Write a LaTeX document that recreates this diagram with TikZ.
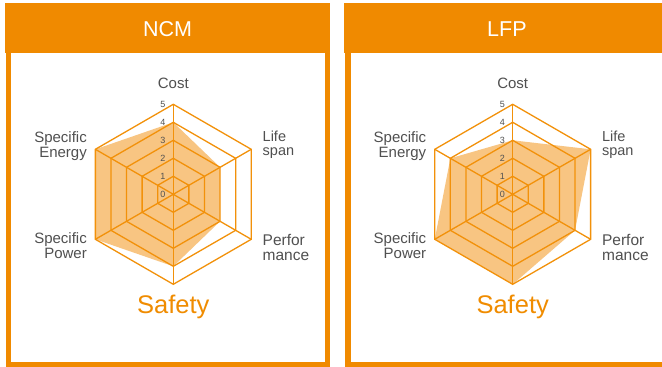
\documentclass[tikz,border=0pt]{standalone}
\usepackage{fontspec}
\setmainfont{Liberation Sans}
\definecolor{hdr}{RGB}{240,138,0}
\definecolor{gridc}{RGB}{242,145,10}
\definecolor{fillc}{RGB}{248,197,130}
\definecolor{txt}{RGB}{80,80,80}
\definecolor{safe}{RGB}{240,140,0}
\tikzset{
  gridline/.style={draw=gridc, line width=1.3pt, line join=miter},
  hdrbox/.style={fill=hdr},
  framebox/.style={draw=hdr, line width=5.5pt},
  titletext/.style={text=white, font=\fontsize{21.5}{24}\selectfont, inner sep=0pt},
  axislabel/.style={text=txt, font=\fontsize{15}{15}\selectfont, inner sep=0pt},
  lifelabel/.style={text=txt, font=\fontsize{14.5}{14.7}\selectfont, inner sep=0pt, align=left},
  perflabel/.style={text=txt, font=\fontsize{15.5}{15}\selectfont, inner sep=0pt, align=left},
  safetylabel/.style={text=safe, font=\fontsize{25.5}{28}\selectfont, inner sep=0pt},
  numlabel/.style={text=txt, font=\fontsize{9}{10}\selectfont, inner sep=0pt},
}
\newcommand{\radarpanel}[9]{%
  \begin{scope}[shift={(#1,0)}]
    \fill[hdrbox] (5,-3) rectangle (330,-53);
    \draw[framebox] (8.5,-53) -- (8.5,-364.5) -- (327.5,-364.5) -- (327.5,-53);
    \node[titletext] (#3title) at (167.5,-29.5) {#2};
    \begin{scope}[shift={(173.3,-194.3)}]
      \coordinate (#3c) at (0,0);
      \fill[fillc] (90:{#4*18}) -- (30:{#5*18}) -- (-30:{#6*18}) -- (-90:{#7*18}) -- (210:{#8*18}) -- (150:{#9*18}) -- cycle;
      \foreach \k in {1,...,5}
        \draw[gridline] (90:\k*18) -- (30:\k*18) -- (-30:\k*18) -- (-90:\k*18) -- (210:\k*18) -- (150:\k*18) -- cycle;
      \foreach \a in {90,30,-30,-90,210,150}
        \draw[gridline] (#3c) -- (\a:90);
      \foreach \k in {0,...,5}
        \node[numlabel] (#3n\k) at (-10.3,{\k*18-0.3}) {\k};
    \end{scope}
    \node[axislabel, anchor=base] (#3cost) at (173.3,-88.5) {Cost};
    \node[lifelabel, anchor=base west] (#3life) at (262.5,-155.7) {Life\\span};
    \node[perflabel, anchor=base west] (#3perf) at (262.5,-260) {Perfor\\mance};
    \node[axislabel, anchor=base east, align=right] (#3energy) at (87,-157.3) {Specific\\Energy};
    \node[axislabel, anchor=base east, align=right] (#3power) at (87,-258.3) {Specific\\Power};
    \node[safetylabel, anchor=base] (#3safety) at (173.3,-313.3) {Safety};
  \end{scope}}
\begin{document}
\begin{tikzpicture}[x=1pt,y=1pt]
\useasboundingbox (0,0) rectangle (662,-367);
\fill[white] (0,0) rectangle (662,-367);
\radarpanel{0}{NCM}{L}{4}{3}{3}{4}{5}{5}
\radarpanel{339.4}{LFP}{R}{3}{5}{4}{5}{5}{4}
\end{tikzpicture}
\end{document}
